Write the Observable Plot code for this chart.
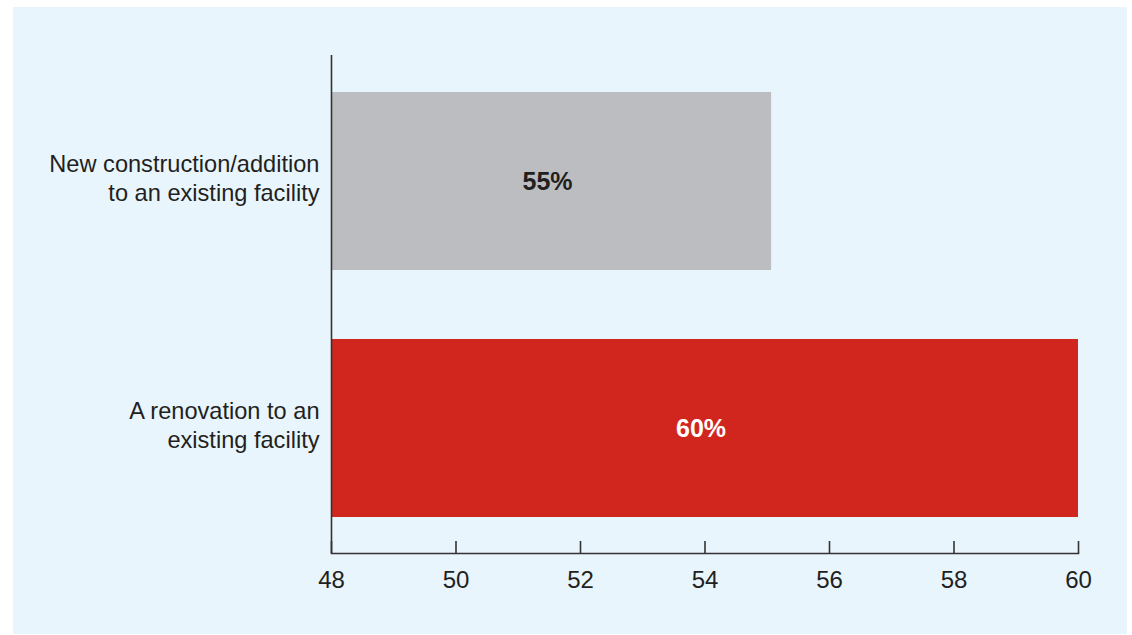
<!DOCTYPE html>
<html>
<head>
<meta charset="utf-8">
<script src="https://cdn.jsdelivr.net/npm/d3@7"></script>
<script src="https://cdn.jsdelivr.net/npm/@observablehq/plot@0.6"></script>
<style>
  html, body { margin: 0; padding: 0; background: #ffffff; }
  #panel {
    position: absolute; left: 13px; top: 7px; width: 1114px; height: 627px;
    background: #e8f5fc;
  }
  #panel svg { display: block; }
</style>
</head>
<body>
<div id="panel"></div>
<script>
const categories = [
  "New construction/addition\nto an existing facility",
  "A renovation to an\nexisting facility"
];
const values = [55.07, 60];
const valueLabels = ["55%", "60%"];
const barColors = ["#bcbdc1", "#d0261e"];
const labelColors = ["#231f20", "#ffffff"];
const xDomain = [48, 60];
const xTicks = [48, 50, 52, 54, 56, 58, 60];

const data = categories.map((c, i) => ({
  category: c, value: values[i], label: valueLabels[i],
  fill: barColors[i], textColor: labelColors[i]
}));

const W = 1114, H = 627;
const mT = 48, mB = 81, mL = 318, mR = 49;
const frameH = H - mT - mB;
const axisColor = "#333333";

const chart = Plot.plot({
  width: W, height: H,
  marginTop: mT, marginBottom: mB, marginLeft: mL, marginRight: mR,
  style: { background: "transparent", fontFamily: "'Liberation Sans', Arial, sans-serif", color: "#231f20" },
  x: { domain: xDomain, ticks: xTicks },
  y: { domain: categories, paddingInner: 0.28, paddingOuter: 0.145 },
  marks: [
    Plot.barX(data, { y: "category", x1: () => xDomain[0], x2: "value", fill: d => d.fill }),
    Plot.text(data, {
      y: "category", x: d => (xDomain[0] + d.value) / 2, dx: -4, text: "label",
      fill: d => d.textColor, fontSize: 25, fontWeight: "bold"
    }),
    Plot.ruleX([xDomain[0]], { stroke: axisColor, strokeWidth: 1.6 }),
    Plot.frame({ anchor: "bottom", stroke: axisColor, strokeWidth: 1.6 }),
    Plot.ruleX(xTicks, { x: d => d, insetTop: frameH - 12, stroke: axisColor, strokeWidth: 1.6 }),
    Plot.axisX({ ticks: xTicks, tickSize: 0, tickPadding: 17, fontSize: 24, fill: "#231f20", label: null }),
    Plot.axisY({ tickSize: 0, tickPadding: 12, fontSize: 23.6, lineHeight: 1.24, dy: -4, fill: "#231f20", label: null })
  ]
});
document.getElementById("panel").appendChild(chart);
</script>
</body>
</html>
